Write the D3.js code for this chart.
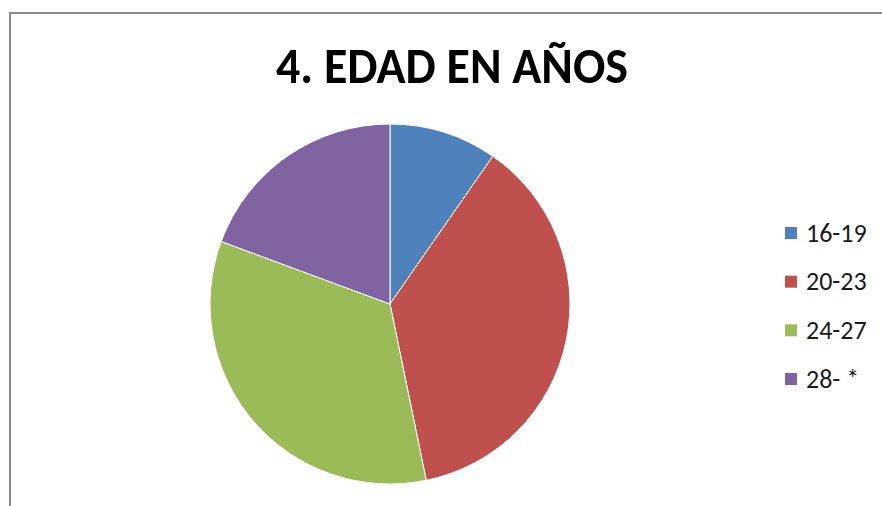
<!DOCTYPE html>
<html><head><meta charset="utf-8">
<script src="https://cdn.jsdelivr.net/npm/d3@7"></script>
<style>body{margin:0;background:#fff}svg{display:block}</style>
</head><body>
<script>
const categories = ["16-19", "20-23", "24-27", "28- *"];
const values = [6, 23, 21, 12];
const colors = ["#4F81BD", "#C0504D", "#9BBB59", "#8064A2"];
const title = "4. EDAD EN AÑOS";

const W = 882, H = 506;
const svg = d3.select("body").append("svg").attr("width", W).attr("height", H);
svg.append("rect").attr("width", W).attr("height", H).attr("fill", "#fff");
// frame
svg.append("path").attr("d", `M10,${H} L10,13 L${W},13`).attr("fill", "none")
  .attr("stroke", "#888").attr("stroke-width", 2);

svg.append("text").attr("x", 452).attr("y", 83).attr("text-anchor", "middle")
  .attr("font-family", "Carlito, Calibri, 'Liberation Sans', sans-serif")
  .attr("font-weight", "bold").attr("font-size", 50)
  .attr("textLength", 352).attr("lengthAdjust", "spacingAndGlyphs")
  .text(title);

const data = categories.map((c, i) => ({c, v: values[i]}));
const pie = d3.pie().value(d => d.v).sort(null);
const arc = d3.arc().innerRadius(0).outerRadius(180);
const color = d3.scaleOrdinal().domain(categories).range(colors);
const g = svg.append("g").attr("transform", "translate(390,304)");
g.selectAll("path").data(pie(data)).enter().append("path")
  .attr("d", arc).attr("fill", d => color(d.data.c))
  .attr("stroke", "#fff").attr("stroke-width", 1);

const y = d3.scalePoint().domain(categories).range([233, 379]);
const lg = svg.append("g");
lg.selectAll("rect").data(categories).enter().append("rect")
  .attr("x", 785).attr("y", d => y(d) - 6).attr("width", 12).attr("height", 12)
  .attr("fill", d => color(d));
lg.selectAll("text").data(categories).enter().append("text")
  .attr("x", 806).attr("y", d => y(d) + 8.5)
  .attr("font-family", "Carlito, Calibri, 'Liberation Sans', sans-serif")
  .attr("font-size", 26).attr("fill", "#1a1a1a")
  .text(d => d);
</script>
</body></html>
